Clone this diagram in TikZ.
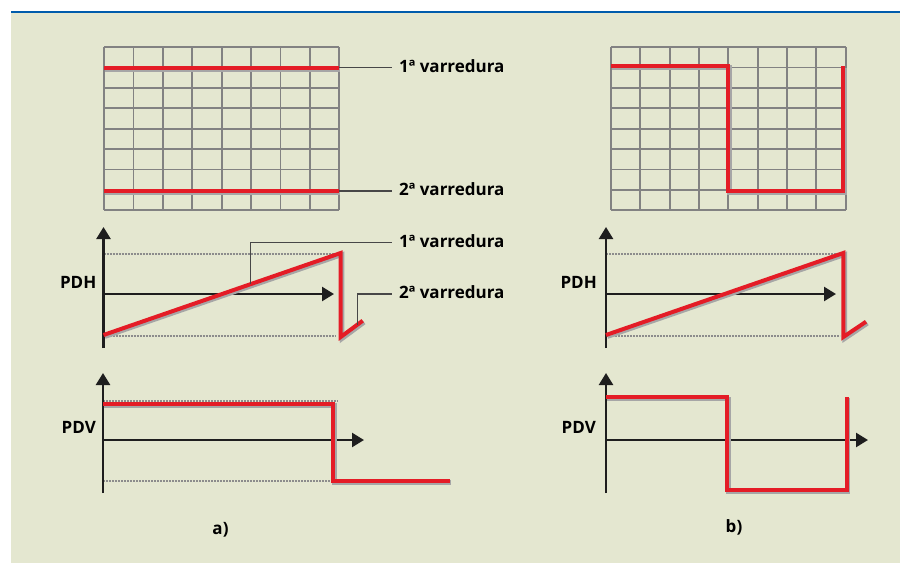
\documentclass[tikz,border=0pt]{standalone}
\usepackage{fontspec}
\setmainfont{Open Sans}
\usepackage{tikz}
\usetikzlibrary{arrows.meta,calc}

\definecolor{panelbg}{RGB}{228,231,208}
\definecolor{topline}{RGB}{0,92,172}
\definecolor{sigred}{RGB}{228,28,38}
\definecolor{gridgray}{RGB}{130,130,130}
\definecolor{axisink}{RGB}{30,30,30}

\begin{document}
\begin{tikzpicture}[
x=1pt, y=-1pt,
lbl/.style={font=\fontsize{17}{19}\selectfont\bfseries, inner sep=0pt},
axis/.style={-{Triangle[length=12pt,width=14pt]}, line width=2.4pt, axisink},
raster/.style={gridgray, line width=1.8pt},
limit/.style={gray!90, line width=2.3pt, dash pattern=on 2pt off 1pt},
leader/.style={line width=1.3pt, black!72},
signal/.style={sigred, line width=4pt, line join=miter,
  preaction={draw=gray!70, line width=4.6pt, transform canvas={shift={(1.4pt,-1.6pt)}}}}
]
\useasboundingbox (0,0) rectangle (900,563);
\fill[panelbg] (11,13) rectangle (900,563);
\draw[topline, line width=2pt] (11,12.3) -- (900,12.3);

% screen grids
\foreach \gx/\gw in {104/29.4, 611/29.33}
  \foreach \i in {0,...,8} {
    \draw[raster] (\gx+\gw*\i,47) -- (\gx+\gw*\i,210);
    \draw[raster] (\gx,47+20.4*\i) -- (\gx+8*\gw,47+20.4*\i);
  }

% a) screen sweeps
\draw[signal] (104,67.7) -- (339,67.7);
\draw[signal] (104,191) -- (339,191);
\coordinate (line1) at (339,67.7);
\coordinate (line2) at (339,191);
\node[lbl, anchor=base west] (sweep1) at (399,72.3) {1ª varredura};
\node[lbl, anchor=base west] (sweep2) at (399,195.6) {2ª varredura};
\draw[leader] (line1) -- ($(line1 -| sweep1.west)+(-7,0)$);
\draw[leader] (line2) -- ($(line2 -| sweep2.west)+(-7,0)$);

% b) screen sweep
\draw[signal] (611,65.7) -- (728,65.7) -- (728,191) -- (843,191) -- (843,66);

% a) PDH
\draw[limit] (103.5,254) -- (336,254);
\draw[limit] (103.5,336) -- (336,336);
\draw[axis] (103.5,348) -- (103.5,227);
\draw[axis] (103.5,294) -- (334,294);
\draw[signal] (103.5,335) -- (340.7,253) -- (340.7,337) -- (362.7,320.7);
\path (103.5,335) -- (340.7,253) coordinate[pos=0.621] (ramp1);
\path (340.7,337) -- (362.7,320.7) coordinate[pos=0.755] (ramp2);
\node[lbl, anchor=base east] (pdha) at (96.5,288.3) {PDH};
\node[lbl, anchor=base west] (hsweep1) at (399,247.3) {1ª varredura};
\node[lbl, anchor=base west] (hsweep2) at (399,298.6) {2ª varredura};
\coordinate (knee1) at (ramp1 |- 0,242.7);
\coordinate (knee2) at (ramp2 |- 0,294);
\draw[leader] (ramp1) -- (knee1) -- ($(knee1 -| hsweep1.west)+(-7,0)$);
\draw[leader] (ramp2) -- (knee2) -- ($(knee2 -| hsweep2.west)+(-7,0)$);

% b) PDH
\draw[limit] (606,254) -- (840,254);
\draw[limit] (606,336) -- (840,336);
\draw[axis] (606,348) -- (606,227);
\draw[axis] (606,294) -- (836,294);
\draw[signal] (606,335) -- (843.3,253) -- (843.3,337) -- (866,321.7);
\node[lbl, anchor=base east] (pdhb) at (597,288.3) {PDH};

% a) PDV
\draw[limit] (103,400.7) -- (338,400.7);
\draw[limit] (103,481) -- (332,481);
\draw[axis] (103,493) -- (103,373);
\draw[axis] (103,440) -- (364,440);
\draw[signal] (103,404) -- (333.3,404) -- (333.3,481) -- (450,481);
\node[lbl, anchor=base east] (pdva) at (96,433.8) {PDV};

% b) PDV
\draw[axis] (606,493) -- (606,373);
\draw[axis] (606,440) -- (868,440);
\draw[signal] (606,397.3) -- (727.3,397.3) -- (727.3,490) -- (846.7,490) -- (846.7,396.7);
\node[lbl, anchor=base east] (pdvb) at (596,433.8) {PDV};

\node[lbl, anchor=base] (capa) at (220.5,534) {a)};
\node[lbl, anchor=base] (capb) at (734,532.5) {b)};
\end{tikzpicture}
\end{document}
